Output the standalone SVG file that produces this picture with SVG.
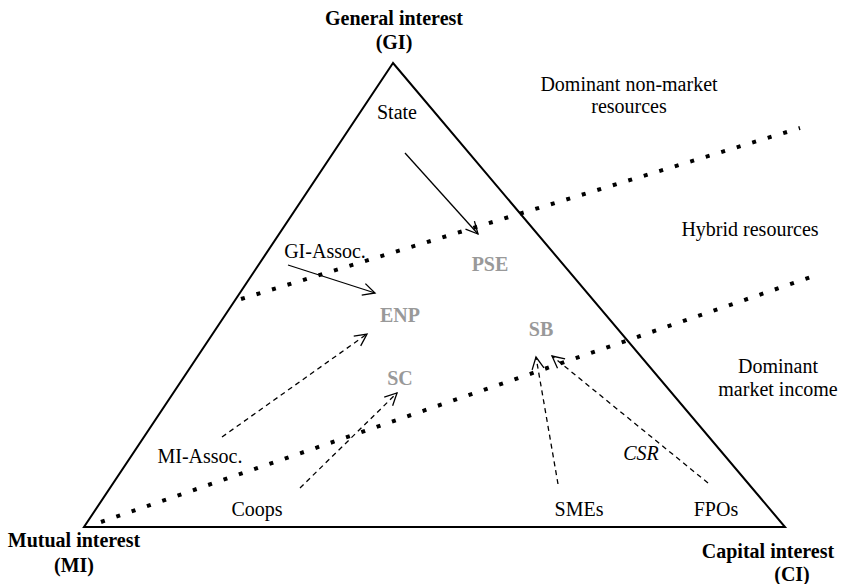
<svg xmlns="http://www.w3.org/2000/svg" width="843" height="584" viewBox="0 0 843 584">
<style>
text{font-family:"Liberation Serif","Times New Roman",serif;font-size:20px;fill:#000;text-anchor:middle}
.b{font-weight:bold}
.g{font-weight:bold;fill:#999}
.i{font-style:italic}
.arr{fill:none;stroke:#000;stroke-width:1.3;marker-end:url(#ah)}
.d{stroke-dasharray:5 4}
.dot{fill:none;stroke:#000;stroke-width:4;stroke-dasharray:4 12.2}
</style>
<defs>
<marker id="ah" markerUnits="userSpaceOnUse" markerWidth="20" markerHeight="20" refX="12" refY="6" orient="auto" overflow="visible">
<path d="M0,0 L12,6 L0,12" fill="none" stroke="#000" stroke-width="1.3" stroke-dasharray="none"/>
</marker>
</defs>
<rect width="843" height="584" fill="#fff"/>
<g id="triangle">
<polygon points="393,63 84,527 785,527" fill="none" stroke="#000" stroke-width="2"/>
</g>
<g id="boundaries">
<line class="dot" x1="241" y1="299" x2="800" y2="128"/>
<line class="dot" x1="101" y1="522" x2="811" y2="277"/>
</g>
<g id="vertex-labels">
<g id="GI"><text class="b" x="394" y="25">General interest</text><text class="b" x="394" y="49">(GI)</text></g>
<g id="MI"><text class="b" x="74" y="547">Mutual interest</text><text class="b" x="74" y="572">(MI)</text></g>
<g id="CI"><text class="b" x="768" y="558">Capital interest</text><text class="b" x="792" y="581">(CI)</text></g>
</g>
<g id="zone-labels">
<g id="non-market"><text x="629" y="91">Dominant non-market</text><text x="629" y="113">resources</text></g>
<g id="hybrid"><text x="750" y="236">Hybrid resources</text></g>
<g id="market"><text x="778" y="373">Dominant</text><text x="778" y="396">market income</text></g>
</g>
<g id="State"><text x="397" y="119">State</text></g>
<g id="GI-Assoc"><text x="325" y="258">GI-Assoc.</text></g>
<g id="MI-Assoc"><text x="200" y="463">MI-Assoc.</text></g>
<g id="Coops"><text x="257" y="516">Coops</text></g>
<g id="SMEs"><text x="579" y="516">SMEs</text></g>
<g id="FPOs"><text x="716" y="516">FPOs</text></g>
<g id="PSE"><text class="g" x="490" y="271">PSE</text></g>
<g id="ENP"><text class="g" x="400" y="322">ENP</text></g>
<g id="SC"><text class="g" x="400" y="385">SC</text></g>
<g id="SB"><text class="g" x="541" y="336">SB</text></g>
<g id="CSR"><text class="i" x="641" y="460">CSR</text></g>
<g id="connectors">
<line class="arr" x1="405" y1="153" x2="478" y2="234"/>
<line class="arr" x1="288" y1="265" x2="375" y2="293"/>
<line class="arr d" x1="222" y1="437" x2="367" y2="334"/>
<line class="arr d" x1="300" y1="488" x2="397" y2="393"/>
<line class="arr d" x1="558" y1="484" x2="536" y2="357"/>
<line class="arr d" x1="708" y1="483" x2="552" y2="356"/>
</g>
</svg>
